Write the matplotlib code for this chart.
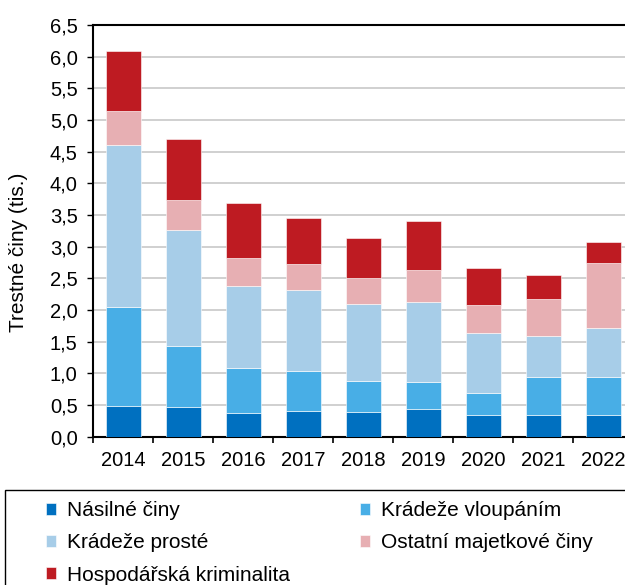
import matplotlib
matplotlib.use("Agg")
import matplotlib.pyplot as plt
from matplotlib.patches import Rectangle
import numpy as np

plt.rcParams['font.family'] = ['Liberation Sans', 'DejaVu Sans']

years = ["2014", "2015", "2016", "2017", "2018", "2019", "2020", "2021", "2022"]
nasilne = [0.49, 0.47, 0.38, 0.41, 0.395, 0.44, 0.34, 0.35, 0.34]
vloupanim = [1.55, 0.96, 0.705, 0.63, 0.48, 0.43, 0.355, 0.59, 0.61]
proste = [2.57, 1.84, 1.295, 1.27, 1.215, 1.25, 0.945, 0.645, 0.76]
ostatni = [0.53, 0.46, 0.44, 0.42, 0.41, 0.51, 0.445, 0.585, 1.03]
hospodarska = [0.955, 0.97, 0.87, 0.73, 0.64, 0.77, 0.585, 0.39, 0.34]

series_names = ["Násilné činy", "Krádeže vloupáním", "Krádeže prosté",
                "Ostatní majetkové činy", "Hospodářská kriminalita"]
series_values = [nasilne, vloupanim, proste, ostatni, hospodarska]
colors = ["#0070C0", "#48AEE6", "#A7CDE8", "#E7AFB3", "#BE1B22"]

y_ticks = [0.0, 0.5, 1.0, 1.5, 2.0, 2.5, 3.0, 3.5, 4.0, 4.5, 5.0, 5.5, 6.0, 6.5]
y_ticklabels = [f"{v:.1f}".replace(".", ",") for v in y_ticks]
y_label = "Trestné činy (tis.)"

W, H = 625, 585
fig = plt.figure(figsize=(W / 100, H / 100), dpi=100)
ax = fig.add_axes([93.3 / W, (H - 436.7) / H, 540 / W, (436.7 - 25) / H])

x = np.arange(len(years))
bottom = np.zeros(len(years))
handles = []
for name, vals, c in zip(series_names, series_values, colors):
    b = ax.bar(x, vals, width=0.583, bottom=bottom, color=c, label=name,
               edgecolor="white", linewidth=0.4, zorder=3)
    handles.append(b)
    bottom = bottom + np.array(vals)

ax.set_xlim(-0.5, len(years) - 0.5)
ax.set_ylim(0, 6.5)
ax.set_yticks(y_ticks)
ax.set_yticklabels(y_ticklabels, fontsize=14.5)
ax.set_xticks(x)
ax.set_xticklabels(years, fontsize=14.5)
ax.set_xticks(np.arange(-0.5, len(years), 1.0), minor=True)
ax.tick_params(axis="x", which="major", length=0, pad=10)
ax.tick_params(axis="x", which="minor", length=4.3, width=1.2, direction="out", color="black")
ax.tick_params(axis="y", length=4.3, width=1.0, direction="out", pad=7, color="black")

ax.yaxis.grid(True, color="#c4c4c4", linewidth=1.1, zorder=0)
ax.set_axisbelow(True)
for s in ["left", "bottom", "top", "right"]:
    ax.spines[s].set_color("black")
    ax.spines[s].set_linewidth(1.5)
ax.spines["right"].set_visible(False)

fig.text(18.5 / W, 1 - 252 / H, y_label, rotation=90, fontsize=15,
         ha="center", va="center")

# legend frame
fig.patches.append(Rectangle((4.7 / W, -0.05), 1.0, (H - 490) / H + 0.05,
                             transform=fig.transFigure, fill=False,
                             edgecolor="black", linewidth=1.0, clip_on=False))

col1 = [handles[0], handles[2], handles[4]]
col2 = [handles[1], handles[3]]
common = dict(frameon=False, fontsize=15, handlelength=0.5, handleheight=0.5,
              handletextpad=0.5, labelspacing=0.64, borderpad=0, borderaxespad=0)
leg1 = fig.legend(col1, [h.get_label() for h in col1], loc="upper left",
                  bbox_to_anchor=(46 / W, 1 - 501 / H), **common)
leg2 = fig.legend(col2, [h.get_label() for h in col2], loc="upper left",
                  bbox_to_anchor=(360 / W, 1 - 501 / H), **common)

fig.savefig("out.png", dpi=100)
